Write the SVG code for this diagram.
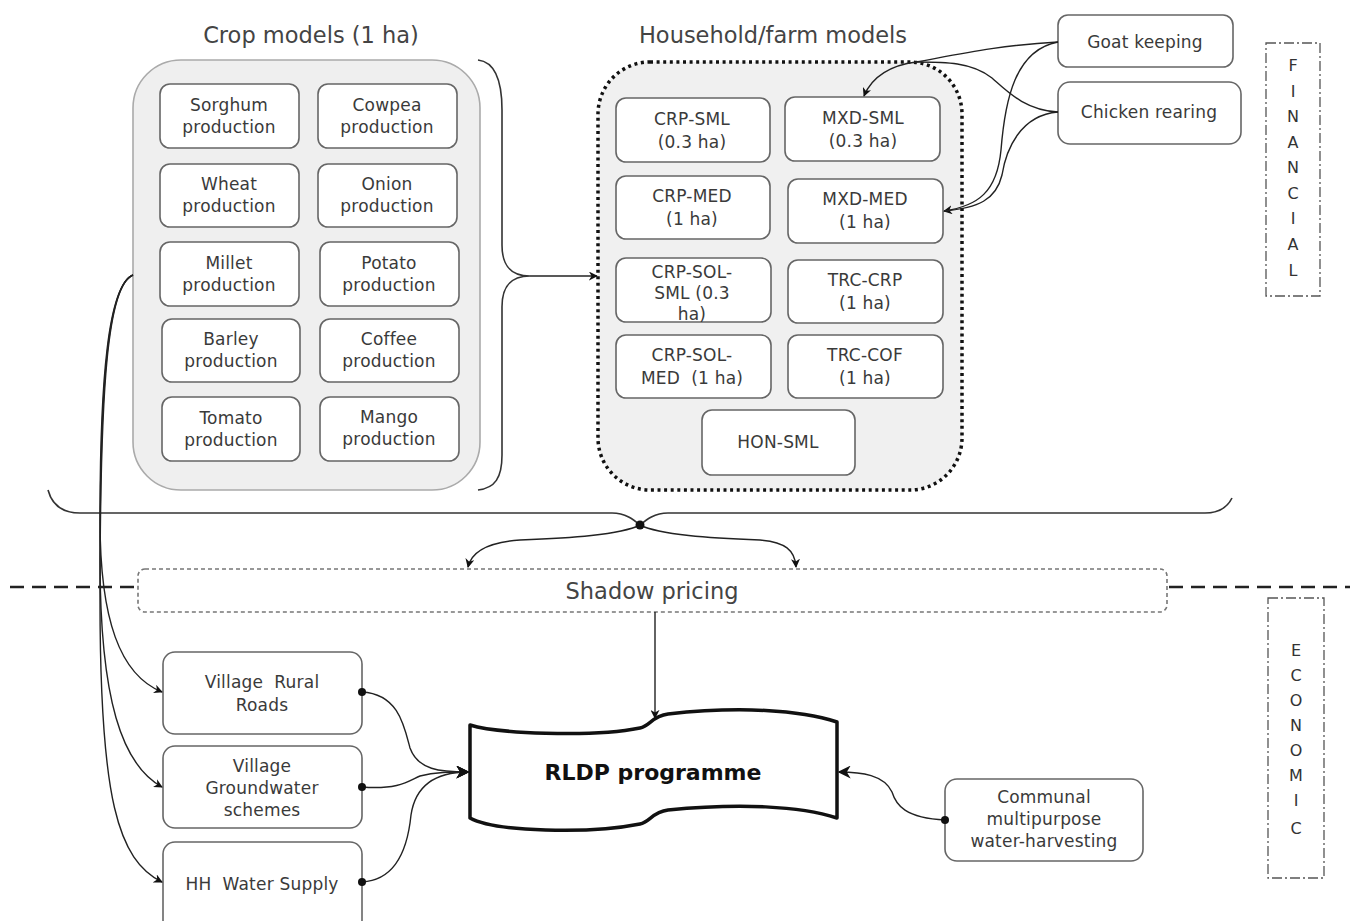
<svg xmlns="http://www.w3.org/2000/svg" width="1353" height="921" viewBox="0 0 1353 921">
  <defs>
    <marker id="arrow" viewBox="0 0 10 10" refX="9" refY="5" markerWidth="9" markerHeight="9" markerUnits="userSpaceOnUse" orient="auto">
      <path d="M0,0 L10,5 L0,10 L3,5 z" fill="#111"/>
    </marker>
    <marker id="arrowBig" viewBox="0 0 10 10" refX="9" refY="5" markerWidth="13" markerHeight="13" markerUnits="userSpaceOnUse" orient="auto">
      <path d="M0,0 L10,5 L0,10 L3,5 z" fill="#111"/>
    </marker>
    <marker id="dot" viewBox="0 0 10 10" refX="5" refY="5" markerWidth="8" markerHeight="8" markerUnits="userSpaceOnUse">
      <circle cx="5" cy="5" r="5" fill="#111"/>
    </marker>
  </defs>
  <style>
    text { font-family: "DejaVu Sans", Verdana, sans-serif; fill: #3a3a3a; text-anchor: middle; }
    .title { font-size: 22.5px; fill: #444; }
    .lbl { font-size: 17px; letter-spacing: 0.2px; }
    .side { font-size: 16px; fill: #333; }
    .box { fill: #fff; stroke: #666; stroke-width: 1.6; }
    .crop-group { fill: #efefef; stroke: #aaa; stroke-width: 1.6; }
    .farm-group { fill: #f0f0f0; stroke: #111; stroke-width: 3.5; stroke-dasharray: 3 3.6; }
    .frame { fill: none; stroke: #555; stroke-width: 1.3; stroke-dasharray: 10 3 2 3; }
    .link { fill: none; stroke: #222; stroke-width: 1.4; }
    .brace { fill: none; stroke: #333; stroke-width: 1.6; }
  </style>

  <rect width="1353" height="921" fill="#fff"/>

  <!-- section divider between financial and economic parts -->
  <g id="divider">
    <line x1="10" y1="587" x2="138" y2="587" stroke="#222" stroke-width="2.6" stroke-dasharray="14 8"/>
    <line x1="1169" y1="587" x2="1350" y2="587" stroke="#222" stroke-width="2.6" stroke-dasharray="14 8"/>
  </g>

  <!-- crop models -->
  <g id="crop-models">
    <text class="title" x="311" y="43">Crop models (1 ha)</text>
    <rect class="crop-group" x="133" y="60" width="347" height="430" rx="48"/>
  </g>
  <g id="sorghum"><rect class="box" x="160" y="84" width="139" height="64" rx="10"/><text class="lbl" x="229" y="111">Sorghum</text><text class="lbl" x="229" y="133">production</text></g>
  <g id="cowpea"><rect class="box" x="318" y="84" width="139" height="64" rx="10"/><text class="lbl" x="387" y="111">Cowpea</text><text class="lbl" x="387" y="133">production</text></g>
  <g id="wheat"><rect class="box" x="160" y="164" width="139" height="63" rx="10"/><text class="lbl" x="229" y="190">Wheat</text><text class="lbl" x="229" y="212">production</text></g>
  <g id="onion"><rect class="box" x="318" y="164" width="139" height="63" rx="10"/><text class="lbl" x="387" y="190">Onion</text><text class="lbl" x="387" y="212">production</text></g>
  <g id="millet"><rect class="box" x="160" y="242" width="139" height="64" rx="10"/><text class="lbl" x="229" y="269">Millet</text><text class="lbl" x="229" y="291">production</text></g>
  <g id="potato"><rect class="box" x="320" y="242" width="139" height="64" rx="10"/><text class="lbl" x="389" y="269">Potato</text><text class="lbl" x="389" y="291">production</text></g>
  <g id="barley"><rect class="box" x="162" y="319" width="138" height="63" rx="10"/><text class="lbl" x="231" y="345">Barley</text><text class="lbl" x="231" y="367">production</text></g>
  <g id="coffee"><rect class="box" x="320" y="319" width="139" height="63" rx="10"/><text class="lbl" x="389" y="345">Coffee</text><text class="lbl" x="389" y="367">production</text></g>
  <g id="tomato"><rect class="box" x="162" y="397" width="138" height="64" rx="10"/><text class="lbl" x="231" y="424">Tomato</text><text class="lbl" x="231" y="446">production</text></g>
  <g id="mango"><rect class="box" x="320" y="397" width="139" height="64" rx="10"/><text class="lbl" x="389" y="423">Mango</text><text class="lbl" x="389" y="445">production</text></g>

  <!-- household / farm models -->
  <g id="farm-models">
    <text class="title" x="773" y="43">Household/farm models</text>
    <rect class="farm-group" x="598" y="62" width="364" height="428" rx="52"/>
  </g>
  <g id="crp-sml"><rect class="box" x="616" y="98" width="154" height="64" rx="10"/><text class="lbl" x="692" y="125">CRP-SML</text><text class="lbl" x="692" y="148">(0.3 ha)</text></g>
  <g id="mxd-sml"><rect class="box" x="785" y="97" width="155" height="64" rx="10"/><text class="lbl" x="863" y="124">MXD-SML</text><text class="lbl" x="863" y="147">(0.3 ha)</text></g>
  <g id="crp-med"><rect class="box" x="616" y="176" width="154" height="63" rx="10"/><text class="lbl" x="692" y="202">CRP-MED</text><text class="lbl" x="692" y="225">(1 ha)</text></g>
  <g id="mxd-med"><rect class="box" x="788" y="179" width="155" height="64" rx="10"/><text class="lbl" x="865" y="205">MXD-MED</text><text class="lbl" x="865" y="228">(1 ha)</text></g>
  <g id="crp-sol-sml"><rect class="box" x="616" y="258" width="155" height="64" rx="10"/><text class="lbl" x="692" y="278">CRP-SOL-</text><text class="lbl" x="692" y="299">SML (0.3</text><text class="lbl" x="692" y="320">ha)</text></g>
  <g id="trc-crp"><rect class="box" x="788" y="260" width="155" height="63" rx="10"/><text class="lbl" x="865" y="286">TRC-CRP</text><text class="lbl" x="865" y="309">(1 ha)</text></g>
  <g id="crp-sol-med"><rect class="box" x="616" y="335" width="155" height="63" rx="10"/><text class="lbl" x="692" y="361">CRP-SOL-</text><text class="lbl" x="692" y="384" style="white-space:pre">MED  (1 ha)</text></g>
  <g id="trc-cof"><rect class="box" x="788" y="335" width="155" height="63" rx="10"/><text class="lbl" x="865" y="361">TRC-COF</text><text class="lbl" x="865" y="384">(1 ha)</text></g>
  <g id="hon-sml"><rect class="box" x="702" y="410" width="153" height="65" rx="10"/><text class="lbl" x="778" y="448">HON-SML</text></g>

  <!-- livestock activities -->
  <g id="goat"><rect class="box" x="1058" y="15" width="175" height="52" rx="10"/><text class="lbl" x="1145" y="48">Goat keeping</text></g>
  <g id="chicken"><rect class="box" x="1058" y="82" width="183" height="62" rx="12"/><text class="lbl" x="1149" y="118">Chicken rearing</text></g>

  <!-- financial / economic side labels -->
  <g id="financial">
    <rect class="frame" x="1266" y="43" width="54" height="253"/>
    <text class="side" x="1293" y="71">F</text>
    <text class="side" x="1293" y="97">I</text>
    <text class="side" x="1293" y="122">N</text>
    <text class="side" x="1293" y="148">A</text>
    <text class="side" x="1293" y="173">N</text>
    <text class="side" x="1293" y="199">C</text>
    <text class="side" x="1293" y="224">I</text>
    <text class="side" x="1293" y="250">A</text>
    <text class="side" x="1293" y="276">L</text>
  </g>
  <g id="economic">
    <rect class="frame" x="1268" y="598" width="56" height="280"/>
    <text class="side" x="1296" y="656">E</text>
    <text class="side" x="1296" y="681">C</text>
    <text class="side" x="1296" y="706">O</text>
    <text class="side" x="1296" y="731">N</text>
    <text class="side" x="1296" y="756">O</text>
    <text class="side" x="1296" y="781">M</text>
    <text class="side" x="1296" y="806">I</text>
    <text class="side" x="1296" y="834">C</text>
  </g>

  <!-- shadow pricing -->
  <g id="shadow-pricing">
    <rect x="138" y="569" width="1029" height="43" rx="7" fill="#fff" stroke="#777" stroke-width="1.6" stroke-dasharray="4 3"/>
    <text class="title" x="652" y="599">Shadow pricing</text>
  </g>

  <!-- programme-level components -->
  <g id="rural-roads"><rect class="box" x="163" y="652" width="199" height="82" rx="12"/><text class="lbl" x="262" y="688" style="white-space:pre">Village  Rural</text><text class="lbl" x="262" y="711">Roads</text></g>
  <g id="groundwater"><rect class="box" x="163" y="746" width="199" height="82" rx="12"/><text class="lbl" x="262" y="772">Village</text><text class="lbl" x="262" y="794">Groundwater</text><text class="lbl" x="262" y="816">schemes</text></g>
  <g id="hh-water"><rect class="box" x="163" y="842" width="199" height="90" rx="12"/><text class="lbl" x="262" y="890" style="white-space:pre">HH  Water Supply</text></g>
  <g id="communal"><rect class="box" x="945" y="779" width="198" height="82" rx="12"/><text class="lbl" x="1044" y="803">Communal</text><text class="lbl" x="1044" y="825">multipurpose</text><text class="lbl" x="1044" y="847">water-harvesting</text></g>

  <g id="rldp">
    <path d="M470,725 C495,733 590,738 640,728 C650,726 652,716 668,714 C740,706 800,710 837,722 L837,818 C800,806 740,803 668,810 C652,812 650,822 640,824 C590,834 495,832 470,818 Z" fill="#fff" stroke="#111" stroke-width="3.5" stroke-linejoin="round"/>
    <text x="653" y="780" style="font-size:22px;font-weight:bold;fill:#111">RLDP programme</text>
  </g>

  <!-- connectors -->
  <g id="connectors">
    <!-- crop models feed into household/farm models -->
    <path class="brace" d="M478,60 C495,62 502,80 502,110 L502,245 C502,265 510,276 530,276 C510,276 502,287 502,307 L502,455 C502,478 495,488 478,490"/>
    <path class="link" d="M530,276 L597,276" marker-end="url(#arrow)"/>

    <!-- livestock into mixed farms -->
    <path class="link" d="M1058,42 C1000,45 955,55 916,62"/>
    <path class="link" d="M1058,112 C1025,110 1008,92 992,78 C972,62 945,62 916,62"/>
    <path class="link" d="M916,62 C892,65 872,76 864,96" stroke-width="1.8" marker-end="url(#arrow)"/>
    <path class="link" d="M1058,42 C1015,50 1005,100 1001,150 C997,192 978,206 944,211" marker-end="url(#arrow)"/>
    <path class="link" d="M1058,112 C1020,115 1006,150 1002,175 C996,200 978,208 944,211"/>

    <!-- financial brace into shadow pricing -->
    <path class="brace" d="M48,490 C52,505 62,513 80,513 L612,513 C626,513 634,520 640,525 C646,520 654,513 668,513 L1205,513 C1220,513 1228,506 1232,498"/>
    <path class="link" d="M640,525 C620,535 570,538 520,540 C490,542 472,550 468,567" marker-end="url(#arrow)"/>
    <path class="link" d="M640,525 C660,535 710,538 760,540 C785,542 795,550 796,567" marker-end="url(#arrow)"/>
    <circle cx="640" cy="525" r="4.5" fill="#111"/>

    <!-- shadow pricing into programme -->
    <path class="link" d="M655,612 L655,718" marker-end="url(#arrow)"/>

    <!-- crop models to village-level components -->
    <path class="link" d="M133,275 C108,285 100,380 100,520 C100,620 120,675 162,692" stroke-width="1.5" marker-end="url(#arrow)"/>
    <path class="link" d="M133,275 C108,285 100,380 100,560 C100,700 122,765 162,787" stroke-width="1.5" marker-end="url(#arrow)"/>
    <path class="link" d="M133,275 C108,285 100,380 100,600 C100,800 118,860 162,882" stroke-width="1.5" marker-end="url(#arrow)"/>

    <!-- components into programme -->
    <path class="link" d="M362,692 C398,694 404,725 410,748 C418,770 440,772 468,772" marker-start="url(#dot)" marker-end="url(#arrowBig)"/>
    <path class="link" d="M362,787 C400,790 410,780 420,776 C435,772 450,772 468,772" marker-start="url(#dot)" marker-end="url(#arrowBig)"/>
    <path class="link" d="M362,882 C398,880 408,845 411,815 C416,782 440,772 468,772" marker-start="url(#dot)" marker-end="url(#arrowBig)"/>
    <path class="link" d="M945,820 C905,818 896,805 892,792 C884,775 862,772 839,772" marker-start="url(#dot)" marker-end="url(#arrowBig)"/>
  </g>
</svg>
